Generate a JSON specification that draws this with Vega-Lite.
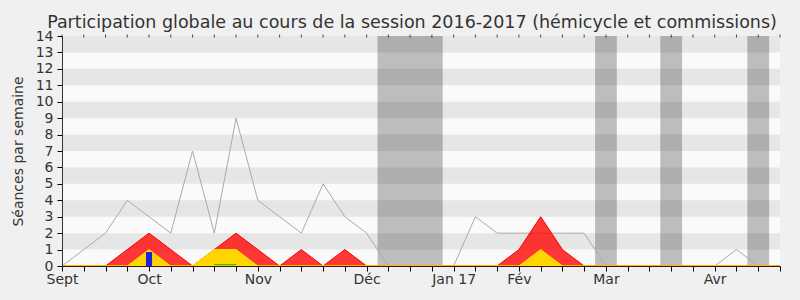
{
  "$schema": "https://vega.github.io/schema/vega-lite/v6.json",
  "autosize": "none",
  "width": 718,
  "height": 230,
  "padding": {"left": 62, "top": 36, "right": 20, "bottom": 34},
  "background": "#f0f0f0",
  "config": {
    "font": "DejaVu Sans",
    "view": {"fill": "#fafafa", "stroke": null},
    "axis": {"labelFont": "DejaVu Sans", "titleFont": "DejaVu Sans", "labelColor": "#333333", "titleColor": "#333333", "grid": false, "labelOverlap": false, "labelFlush": false, "labelFontSize": 14, "tickColor": "#000000"},
    "axisX": {
      "tickCount": 33,
      "labelExpr": "datum.value == 0 ? 'Sept' : datum.value == 4 ? 'Oct' : datum.value == 9 ? 'Nov' : datum.value == 14 ? 'Déc' : datum.value == 18 ? 'Jan 17' : datum.value == 21 ? 'Fév' : datum.value == 25 ? 'Mar' : datum.value == 30 ? 'Avr' : ''",
      "labelPadding": 1,
      "tickSize": 5,
      "domainColor": "#3a1a10"
    },
    "axisY": {
      "tickCount": 14,
      "tickSize": 5,
      "labelPadding": 4,
      "domainColor": "#333333",
      "titleColor": "#333333",
      "titleFontSize": 14,
      "titleFontWeight": "normal",
      "titlePadding": 10
    }
  },
  "title": {
    "text": "Participation globale au cours de la session 2016-2017 (hémicycle et commissions)",
    "fontSize": 17.5,
    "fontWeight": "normal",
    "color": "#333333",
    "anchor": "middle",
    "frame": "group",
    "dx": -9,
    "offset": -2
  },
  "datasets": {
    "weeks": [
      {"w": 0, "total": 0, "red": 0, "yellow": 0, "green": 0},
      {"w": 1, "total": 1, "red": 0, "yellow": 0, "green": 0},
      {"w": 2, "total": 2, "red": 0, "yellow": 0, "green": 0},
      {"w": 3, "total": 4, "red": 1, "yellow": 0, "green": 0},
      {"w": 4, "total": 3, "red": 2, "yellow": 1, "green": 0},
      {"w": 5, "total": 2, "red": 1, "yellow": 0, "green": 0},
      {"w": 6, "total": 7, "red": 0, "yellow": 0, "green": 0},
      {"w": 7, "total": 2, "red": 1, "yellow": 1, "green": 0.08},
      {"w": 8, "total": 9, "red": 2, "yellow": 1, "green": 0.08},
      {"w": 9, "total": 4, "red": 1, "yellow": 0, "green": 0},
      {"w": 10, "total": 3, "red": 0, "yellow": 0, "green": 0},
      {"w": 11, "total": 2, "red": 1, "yellow": 0, "green": 0},
      {"w": 12, "total": 5, "red": 0, "yellow": 0, "green": 0},
      {"w": 13, "total": 3, "red": 1, "yellow": 0, "green": 0},
      {"w": 14, "total": 2, "red": 0, "yellow": 0, "green": 0},
      {"w": 15, "total": 0, "red": 0, "yellow": 0, "green": 0},
      {"w": 16, "total": 0, "red": 0, "yellow": 0, "green": 0},
      {"w": 17, "total": 0, "red": 0, "yellow": 0, "green": 0},
      {"w": 18, "total": 0, "red": 0, "yellow": 0, "green": 0},
      {"w": 19, "total": 3, "red": 0, "yellow": 0, "green": 0},
      {"w": 20, "total": 2, "red": 0, "yellow": 0, "green": 0},
      {"w": 21, "total": 2, "red": 1, "yellow": 0, "green": 0},
      {"w": 22, "total": 2, "red": 3, "yellow": 1, "green": 0},
      {"w": 23, "total": 2, "red": 1, "yellow": 0, "green": 0},
      {"w": 24, "total": 2, "red": 0, "yellow": 0, "green": 0},
      {"w": 25, "total": 0, "red": 0, "yellow": 0, "green": 0},
      {"w": 26, "total": 0, "red": 0, "yellow": 0, "green": 0},
      {"w": 27, "total": 0, "red": 0, "yellow": 0, "green": 0},
      {"w": 28, "total": 0, "red": 0, "yellow": 0, "green": 0},
      {"w": 29, "total": 0, "red": 0, "yellow": 0, "green": 0},
      {"w": 30, "total": 0, "red": 0, "yellow": 0, "green": 0},
      {"w": 31, "total": 1, "red": 0, "yellow": 0, "green": 0},
      {"w": 32, "total": 0, "red": 0, "yellow": 0, "green": 0},
      {"w": 33, "total": 0, "red": 0, "yellow": 0, "green": 0}
    ],
    "stripes": [
      {"y0": 1, "y1": 2}, {"y0": 3, "y1": 4}, {"y0": 5, "y1": 6}, {"y0": 7, "y1": 8},
      {"y0": 9, "y1": 10}, {"y0": 11, "y1": 12}, {"y0": 13, "y1": 14}
    ],
    "bands": [
      {"x0": 14.5, "x1": 17.5}, {"x0": 24.5, "x1": 25.5}, {"x0": 27.5, "x1": 28.5}, {"x0": 31.5, "x1": 32.5}
    ],
    "questions": [
      {"x0": 3.86, "x1": 4.14, "v0": 0, "v": 0.85}
    ]
  },
  "layer": [
    {
      "data": {"name": "weeks"},
      "mark": {"type": "point", "opacity": 0},
      "encoding": {
        "x": {
          "field": "w", "type": "quantitative",
          "scale": {"domain": [0, 33], "nice": false, "zero": false},
          "axis": {"title": null, "zindex": 2}
        },
        "y": {
          "field": "total", "type": "quantitative",
          "scale": {"domain": [0, 14], "nice": false},
          "axis": {"title": "Séances par semaine", "titleColor": "#333333", "zindex": 2}
        }
      }
    },
    {
      "data": {"name": "stripes"},
      "mark": {"type": "rect", "color": "#000000", "opacity": 0.08},
      "encoding": {
        "y": {"field": "y0", "type": "quantitative"},
        "y2": {"field": "y1"}
      }
    },
    {
      "data": {"name": "bands"},
      "mark": {"type": "rect", "color": "#000000", "opacity": 0.245},
      "encoding": {
        "x": {"field": "x0", "type": "quantitative"},
        "x2": {"field": "x1"}
      }
    },
    {
      "data": {"name": "weeks"},
      "mark": {"type": "line", "color": "#aaaaaa", "strokeWidth": 1},
      "encoding": {
        "x": {"field": "w", "type": "quantitative"},
        "y": {"field": "total", "type": "quantitative"}
      }
    },
    {
      "data": {"name": "weeks"},
      "mark": {"type": "area", "fill": "#ff0000", "fillOpacity": 0.78, "stroke": "#ff0000", "strokeWidth": 1},
      "encoding": {
        "x": {"field": "w", "type": "quantitative"},
        "y": {"field": "red", "type": "quantitative"}
      }
    },
    {
      "data": {"name": "weeks"},
      "mark": {"type": "area", "fill": "#ffd500", "stroke": "#ffe000", "strokeWidth": 1},
      "encoding": {
        "x": {"field": "w", "type": "quantitative"},
        "y": {"field": "yellow", "type": "quantitative"}
      }
    },
    {
      "data": {"name": "weeks"},
      "transform": [{"filter": "datum.w >= 7 && datum.w <= 8"}],
      "mark": {"type": "line", "color": "#00c000", "strokeWidth": 1},
      "encoding": {
        "x": {"field": "w", "type": "quantitative"},
        "y": {"field": "green", "type": "quantitative"}
      }
    },
    {
      "data": {"name": "questions"},
      "mark": {"type": "rect", "color": "#2020dd"},
      "encoding": {
        "x": {"field": "x0", "type": "quantitative"},
        "x2": {"field": "x1"},
        "y": {"field": "v0", "type": "quantitative"},
        "y2": {"field": "v"}
      }
    },
    {
      "data": {"name": "weeks"},
      "mark": {"type": "tick", "color": "#000000", "size": 3, "thickness": 1, "orient": "vertical"},
      "encoding": {
        "x": {"field": "w", "type": "quantitative"},
        "y": {"datum": 14, "type": "quantitative"}
      }
    }
  ]
}
